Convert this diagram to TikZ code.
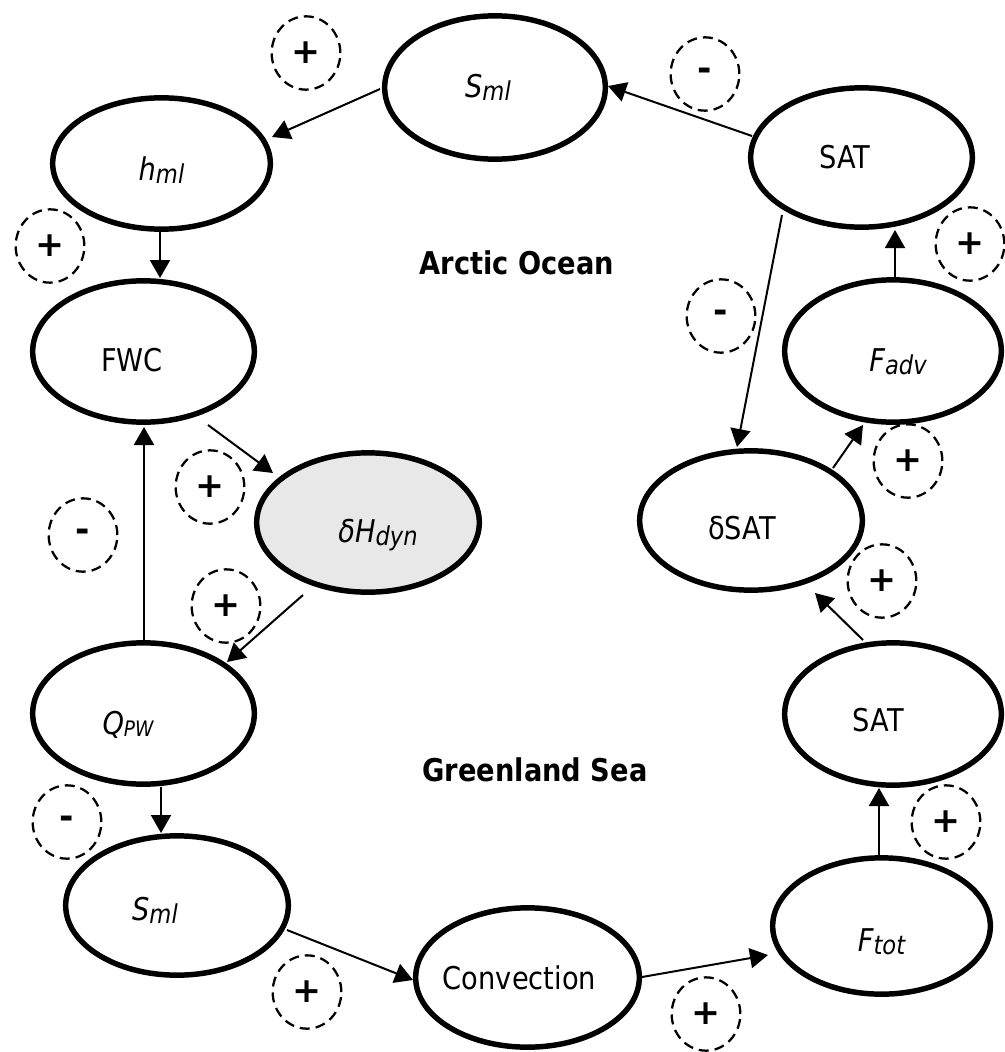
\documentclass[tikz,border=0pt]{standalone}
\usepackage{fontspec}
\setmainfont[FakeStretch=0.87]{DejaVu Sans}
\newfontfamily\signfont{DejaVu Sans}
\usetikzlibrary{shapes.geometric,arrows.meta,calc}
\newcommand\lsub[1]{\raisebox{-2.5pt}{\fontsize{19.5pt}{19.5pt}\selectfont #1}}
\newcommand\lsubcap[1]{\raisebox{-1.5pt}{\fontsize{16pt}{16pt}\selectfont #1}}
\begin{document}
\begin{tikzpicture}[x=0.75pt,y=-0.75pt,
  oval/.style={ellipse, draw, line width=4.1pt, inner sep=0pt},
  tx/.style={font=\fontsize{23.5pt}{23.5pt}\selectfont, inner sep=0pt},
  region/.style={font=\fontsize{23.5pt}{24pt}\selectfont\bfseries, inner sep=0pt},
  sign/.style={ellipse, draw, dash pattern=on 7.5pt off 4.5pt, line width=1.7pt,
    minimum width=51.5pt, minimum height=55pt, inner sep=0pt,
    font=\signfont\bfseries\fontsize{26pt}{26pt}\selectfont},
  arr/.style={-{Triangle[length=13.5pt,width=15pt]}, line width=1.5pt},
]
\fill[white] (0,0) rectangle (1005,1052);
\useasboundingbox (0,0) rectangle (1005,1052);

% ellipses
\node[oval, minimum width=165.5pt, minimum height=107.5pt,
  label={[tx,xshift=-5.25pt]center:\itshape S\lsub{ml}}] (smlT) at (495,87.5) {};
\node[oval, minimum width=163.25pt, minimum height=98.5pt,
  label={[tx,yshift=-4.9pt]center:\itshape h\lsub{ml}}] (hml) at (161.5,163.5) {};
\node[oval, minimum width=166.25pt, minimum height=106pt,
  label={[tx,xshift=-8.6pt,yshift=-6.4pt]center:FWC}] (fwc) at (143.5,351.5) {};
\node[oval, fill=black!9, minimum width=167pt, minimum height=104.5pt,
  label={[tx,xshift=7.5pt,yshift=-9.4pt]center:\itshape δH\lsub{dyn}}] (dh) at (368,522.5) {};
\node[oval, minimum width=166.25pt, minimum height=106pt,
  label={[tx,xshift=-11.6pt,yshift=-8.6pt]center:\itshape Q\lsubcap{PW}}] (qpw) at (143.5,713.5) {};
\node[oval, minimum width=167pt, minimum height=104.5pt,
  label={[tx,xshift=-16.5pt,yshift=-3.4pt]center:\itshape S\lsub{ml}}] (smlB) at (177,905.5) {};
\node[oval, minimum width=167.75pt, minimum height=104.5pt,
  label={[tx,xshift=-6pt]center:Convection}] (conv) at (527.5,977.5) {};
\node[oval, minimum width=163.25pt, minimum height=102.25pt,
  label={[tx,yshift=-12pt]center:\itshape F\lsub{tot}}] (ftot) at (881.5,926) {};
\node[oval, minimum width=162.5pt, minimum height=106.75pt,
  label={[tx,xshift=-10.9pt,yshift=-4.5pt]center:SAT}] (satL) at (893,714) {};
\node[oval, minimum width=167pt, minimum height=104.5pt,
  label={[tx,xshift=-6.75pt,yshift=-5.6pt]center:δSAT}] (dsat) at (751,520.5) {};
\node[oval, minimum width=162.5pt, minimum height=106.75pt,
  label={[tx,xshift=3.75pt,yshift=-8.25pt]center:\itshape F\lsub{adv}}] (fadv) at (893,351) {};
\node[oval, minimum width=166.25pt, minimum height=104.5pt,
  label={[tx,xshift=-12.4pt]center:SAT}] (satT) at (861.5,157.5) {};

% region labels
\node[region] (arctic) at (517,263) {Arctic Ocean};
\node[region] (green) at (535,770) {Greenland Sea};

% sign circles
\node[sign] (c1) at (306,53) {+};
\node[sign] (c2) at (705,74) {-};
\node[sign] (c3) at (50,246) {+};
\node[sign] (c4) at (970,244) {+};
\node[sign] (c5) at (721,316) {-};
\node[sign] (c6) at (210,487) {+};
\node[sign] (c7) at (83,535) {-};
\node[sign] (c8) at (908,461) {+};
\node[sign] (c9) at (226,606) {+};
\node[sign] (c10) at (882,581) {+};
\node[sign] (c11) at (67,822) {-};
\node[sign] (c12) at (946,822) {+};
\node[sign] (c13) at (307,992) {+};
\node[sign] (c14) at (706,1014) {+};

% connectors
\draw[arr] ($(smlT)+(-115,1.5)$) -- ($(hml)+(110.5,-26.5)$);
\draw[arr] ($(hml)+(-1.5,68.5)$) -- ($(fwc)+(16.5,-73.5)$);
\draw[arr] ($(fwc)+(64.5,73.5)$) -- ($(dh)+(-95,-49.5)$);
\draw[arr] ($(dh)+(-65,72.5)$) -- ($(qpw)+(83.5,-51.5)$);
\draw[arr] ($(qpw)+(0.5,-73.5)$) -- ($(fwc)+(0.5,75.5)$);
\draw[arr] ($(qpw)+(17.5,73.5)$) -- ($(smlB)+(-16,-72.5)$);
\draw[arr] ($(smlB)+(110,24.5)$) -- ($(conv)+(-114.5,2.5)$);
\draw[arr] ($(conv)+(114.5,-0.5)$) -- ($(ftot)+(-113.5,29)$);
\draw[arr] ($(ftot)+(-2.5,-71)$) -- ($(satL)+(-14,74)$);
\draw[arr] ($(satL)+(-30,-74)$) -- ($(dsat)+(64,72.5)$);
\draw[arr] ($(dsat)+(82,-52.5)$) -- ($(fadv)+(-30,74)$);
\draw[arr] ($(fadv)+(2,-74)$) -- ($(satT)+(33.5,72.5)$);
\draw[arr] ($(satT)+(-109.5,-21.5)$) -- ($(smlT)+(113,-1.5)$);
\draw[arr] ($(satT)+(-79.5,57.5)$) -- ($(dsat)+(-14,-73.5)$);
\end{tikzpicture}
\end{document}
